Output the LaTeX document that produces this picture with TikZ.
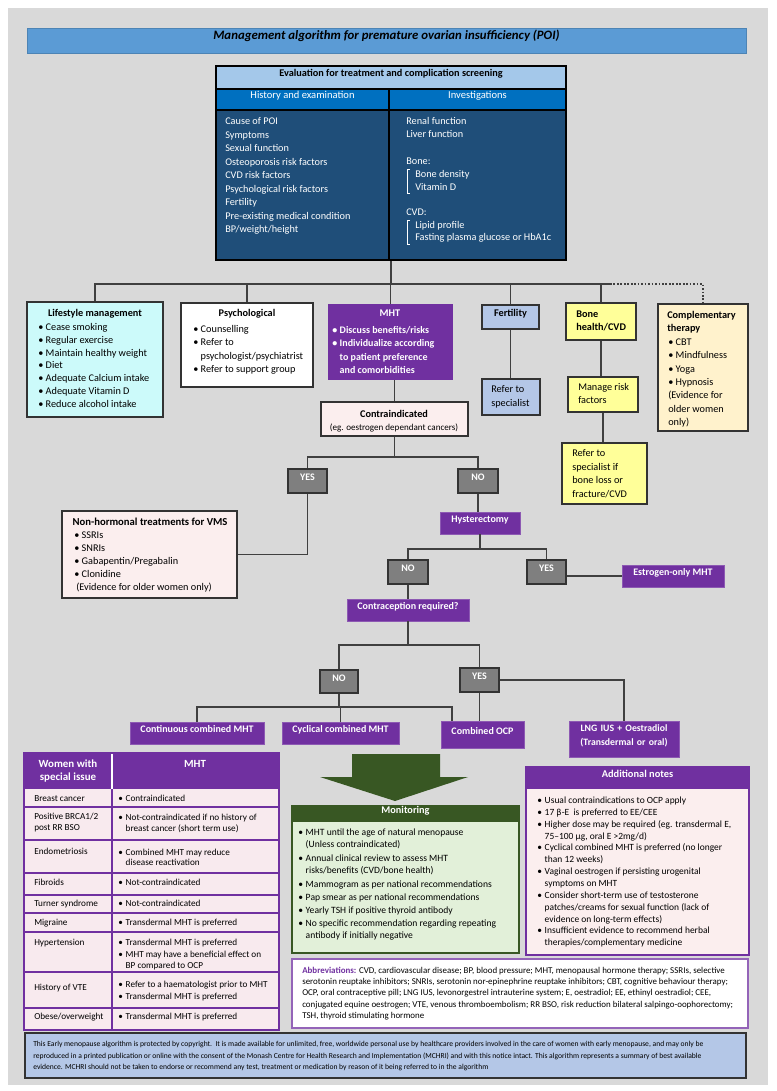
\documentclass[tikz,border=0pt]{standalone}
\usepackage{fontspec}
\setmainfont{Carlito}
\newfontfamily\grk{DejaVu Sans}
\usetikzlibrary{fit}
\definecolor{bg}{HTML}{D9D9D9}
\definecolor{titleblue}{HTML}{5B9BD5}
\definecolor{evalhead}{HTML}{A4C8EA}
\definecolor{evalsub}{HTML}{0070C0}
\definecolor{evalbody}{HTML}{1F4E79}
\definecolor{lifec}{HTML}{CCFAFA}
\definecolor{purp}{HTML}{7030A0}
\definecolor{fertc}{HTML}{B4C7E7}
\definecolor{bonec}{HTML}{FFFF99}
\definecolor{compc}{HTML}{FFF2CC}
\definecolor{pinkc}{HTML}{FBEEEE}
\definecolor{tabpink}{HTML}{F8EAEE}
\definecolor{grayb}{HTML}{7F7F7F}
\definecolor{darkg}{HTML}{385723}
\definecolor{lightg}{HTML}{E2F0D9}
\definecolor{footc}{HTML}{B4C7E7}
\definecolor{edge}{HTML}{333333}
\definecolor{wirec}{HTML}{404040}
\newcommand\fz[2]{\fontsize{#1}{#2}\selectfont}
\newcommand\bu{\makebox[5.6pt][l]{\textbullet}}
\newcommand\ind{\hspace*{5.6pt}}
\newcommand\lns[6]{\foreach \lnitem [count=\lni] in {#6}{\node[tl,#5] (#1\lni) at (#2,{#3+(\lni-1)*(#4)}) {\lnitem};}}
\begin{document}
\begin{tikzpicture}[x=0.75pt,y=-0.75pt,
  bx/.style={draw=edge,line width=1pt,inner sep=0pt},
  tl/.style={inner sep=0pt,anchor=west,text height=5.4pt,text depth=1.6pt,font=\fz{7.7}{9}},
  tb/.style={tl,font=\fz{7.7}{9}\bfseries},
  tc/.style={tl,anchor=center},
  wire/.style={draw=wirec,line width=1.1pt},
  dots/.style={draw=wirec,line width=1.1pt,dash pattern=on 1.3pt off 1.3pt},
  yn/.style={bx,fill=grayb,draw=edge,text=white,font=\fz{7.5}{9}\bfseries},
  pl/.style={inner sep=0pt,fill=purp,draw=purp!80!white,line width=0.6pt,text=white,font=\fz{7.5}{9}\bfseries},
]
\useasboundingbox (0,0) rectangle (777,1091);
\fill[white] (0,0) rectangle (777,1091);
\fill[bg] (8,8) rectangle (768,1085);

% title
\node[fill=titleblue,draw=titleblue!85!black,line width=0.6pt,inner sep=0pt,fit={(27,28)(746,53)},font=\fz{9.6}{11}\bfseries\itshape] (title) {Management algorithm for premature ovarian insufficiency (POI)};

% evaluation box
\node[bx,draw=black,fill=evalhead,fit={(216,66)(566,89)},font=\fz{7.7}{9}\bfseries] (evh) {Evaluation for treatment and complication screening};
\node[bx,draw=black,fill=evalsub,fit={(216,89)(389,110)},text=white,font=\fz{7.9}{9}] (evsl) {History and examination};
\node[bx,draw=black,fill=evalsub,fit={(389,89)(566,110)},text=white,font=\fz{7.9}{9}] (evsr) {Investigations};
\node[bx,draw=black,fill=evalbody,fit={(216,110)(389,260)}] (evbl) {};
\node[bx,draw=black,fill=evalbody,fit={(389,110)(566,260)}] (evbr) {};
\node[draw=black,line width=1.3pt,inner sep=0pt,fit={(216,66)(566,260)}] (ev) {};
\lns{evl}{225}{122}{13.5}{text=white}{{Cause of POI},{Symptoms},{Sexual function},{Osteoporosis risk factors},{CVD risk factors},{Psychological risk factors},{Fertility},{Pre-existing medical condition},{BP/weight/height}}
\node[tl,text=white] (evr1) at (406,122) {Renal function};
\node[tl,text=white] (evr2) at (406,135) {Liver function};
\node[tl,text=white] (evr3) at (406,162) {Bone:};
\node[tl,text=white] (evr4) at (415,175) {Bone density};
\node[tl,text=white] (evr5) at (415,188) {Vitamin D};
\node[tl,text=white] (evr6) at (406,213) {CVD:};
\node[tl,text=white] (evr7) at (415,226) {Lipid profile};
\node[tl,text=white] (evr8) at (415,238) {Fasting plasma glucose or HbA1c};
\draw[white,line width=0.6pt] (410,169) -- (407,169) -- (407,193) -- (410,193);
\draw[white,line width=0.6pt] (410,220) -- (407,220) -- (407,244) -- (410,244);

% second row boxes
\node[bx,fill=lifec,fit={(27,302)(163,417)}] (lif) {};
\node[tb,anchor=center] (lift) at (95,314) {Lifestyle management};
\lns{lifl}{38}{328}{12.8}{}{{\bu Cease smoking},{\bu Regular exercise},{\bu Maintain healthy weight},{\bu Diet},{\bu Adequate Calcium intake},{\bu Adequate Vitamin D},{\bu Reduce alcohol intake}}

\node[bx,fill=white,fit={(181,303)(313,387)}] (psy) {};
\node[tb,anchor=center] (psyt) at (247,314) {Psychological};
\lns{psyl}{193}{330}{13.3}{}{{\bu Counselling},{\bu Refer to},{\ind psychologist/psychiatrist},{\bu Refer to support group}}

\node[inner sep=0pt,fill=purp,fit={(328,304)(453,380)}] (mht) {};
\node[tb,anchor=center,text=white] (mhtt) at (390,314) {MHT};
\lns{mhtl}{332}{331}{13.4}{text=white,font=\fz{7.5}{9}\bfseries}{{\bu Discuss benefits/risks},{\bu Individualize according},{\ind to patient preference},{\ind and comorbidities}}

\node[bx,fill=fertc,fit={(482,305)(539,329)},font=\fz{7.7}{9}\bfseries] (fert) {Fertility};
\node[bx,fill=fertc,fit={(482,379)(540,415)}] (fref) {};
\lns{frefl}{491}{390}{14}{}{{Refer to},{specialist}}

\node[bx,fill=bonec,fit={(566,303)(636,340)}] (bone) {};
\lns{bonel}{576}{315}{13}{font=\fz{7.7}{9}\bfseries}{{Bone},{health/CVD}}
\node[bx,fill=bonec,fit={(568,377)(638,412)}] (mng) {};
\lns{mngl}{578}{388}{13}{}{{Manage risk},{factors}}
\node[bx,fill=bonec,fit={(562,443)(647,504)}] (bref) {};
\lns{brefl}{572}{454}{13.6}{}{{Refer to},{specialist if},{bone loss or},{fracture/CVD}}

\node[bx,fill=compc,fit={(658,304)(748,431)}] (comp) {};
\lns{compt}{667}{316}{13}{font=\fz{7.7}{9}\bfseries}{{Complementary},{therapy}}
\lns{compl}{668}{343}{13.3}{}{{\bu CBT},{\bu Mindfulness},{\bu Yoga},{\bu Hypnosis},{(Evidence for},{older women},{only)}}

% bus connectors
\coordinate (bus) at (0,284);
\coordinate (busend) at (610,284);
\draw[wire] (ev.south) -- (ev.south |- bus);
\draw[wire] (lif.north) |- (busend);
\draw[wire] (psy.north) -- (psy.north |- bus);
\draw[wire] (mht.north) -- (mht.north |- bus);
\draw[wire] (fert.north) -- (fert.north |- bus);
\draw[wire] (bone.north) -- (bone.north |- bus);
\draw[dots] (busend) -| (comp.north);
\draw[wire] (fert.south) -- (fert.south |- fref.north);
\draw[wire] (bone.south) -- (bone.south |- mng.north);
\draw[wire] (mng.south) -- (mng.south |- bref.north);

% contraindicated
\node[bx,fill=pinkc,fit={(321,402)(468,436)}] (cind) {};
\node[tb,anchor=center] (cindt) at (394,415) {Contraindicated};
\node[tc,font=\fz{6.8}{8}] (cinds) at (394,428) {(eg. oestrogen dependant cancers)};
\draw[wire] (cind.north) -- (cind.north |- mht.south);

\node[yn,fit={(288,469)(327,493)}] (yes1) {YES};
\node[yn,fit={(458,469)(498,493)}] (no1) {NO};
\coordinate (h1) at (0,457);
\draw[wire] (cind.south) -- (cind.south |- h1);
\draw[wire] (yes1.north) |- (no1.north |- h1) -- (no1.north);

\node[bx,fill=pinkc,fit={(62,511)(237,598)}] (nonh) {};
\node[tb,anchor=center,font=\fz{8}{9}\bfseries] (nonht) at (150,523) {Non-hormonal treatments for VMS};
\lns{nonhl}{74}{536}{13}{}{{\bu SSRIs},{\bu SNRIs},{\bu Gabapentin/Pregabalin},{\bu Clonidine}}
\node[tl] (nonhe) at (76,588) {(Evidence for older women only)};
\draw[wire] (yes1.south) |- (nonh.east);

\node[pl,fit={(440,512)(520,534)}] (hyst) {Hysterectomy};
\draw[wire] (no1.south) -- (no1.south |- hyst.north);
\node[yn,fit={(388,560)(428,584)}] (no2) {NO};
\node[yn,fit={(527,560)(566,584)}] (yes2) {YES};
\coordinate (h2) at (0,549);
\draw[wire] (hyst.south) -- (hyst.south |- h2);
\draw[wire] (no2.north) |- (yes2.north |- h2) -- (yes2.north);
\node[pl,fit={(622,565)(724,587)}] (estr) {Estrogen-only MHT};
\draw[wire] (yes2.east |- estr.west) -- (estr.west);

\node[pl,fit={(347,599)(469,621)}] (contra) {Contraception required?};
\draw[wire] (no2.south) -- (no2.south |- contra.north);
\node[yn,fit={(320,670)(358,693)}] (no3) {NO};
\node[yn,fit={(460,668)(499,692)}] (yes3) {YES};
\coordinate (h3) at (0,645);
\draw[wire] (contra.south) -- (contra.south |- h3);
\draw[wire] (no3.north) |- (yes3.north |- h3) -- (yes3.north);

\node[pl,fit={(130,722)(264,744)}] (ccm) {Continuous combined MHT};
\node[pl,fit={(282,722)(399,744)}] (cyc) {Cyclical combined MHT};
\node[pl,fit={(441,721)(524,748)}] (ocp) {Combined OCP};
\node[pl,fit={(569,721)(679,757)},align=center,font=\fz{7.3}{10.5}\bfseries] (lng) {LNG IUS + Oestradiol\\(Transdermal or oral)};
\coordinate (h4) at (0,707);
\coordinate (ocpl) at (452,721);
\draw[wire] (no3.south) -- (no3.south |- h4);
\draw[wire] (ccm.north) |- (ocpl |- h4) -- (ocpl);
\draw[wire] (cyc.north) -- (cyc.north |- h4);
\draw[wire] (yes3.south) -- (yes3.south |- ocp.north);
\draw[wire] (yes3.east) -| (lng.north);

% table
\fill[tabpink] (24,789) rectangle (279,1030);
\fill[purp] (24,753) rectangle (279,789);
\foreach \yy in {807,840,873,895,913,932,972,1008} \draw[purp,line width=0.8pt] (24,\yy) -- (279,\yy);
\draw[purp,line width=0.8pt] (112,789) -- (112,1030);
\draw[white,line width=0.8pt] (112,753) -- (112,789);
\draw[purp,line width=1.2pt] (24,753) rectangle (279,1030);
\node[tc,text=white,font=\fz{8.2}{9}\bfseries] (th1) at (68,765) {Women with};
\node[tc,text=white,font=\fz{8.2}{9}\bfseries] (th2) at (68,778) {special issue};
\node[tc,text=white,font=\fz{8.2}{9}\bfseries] (th3) at (195,765) {MHT};
\tikzset{tt/.style={tl,font=\fz{6.9}{8}}}
\node[tt] (ta1) at (34,799) {Breast cancer};
\node[tt] (ta2) at (34,817) {Positive BRCA1/2};
\node[tt] (ta3) at (34,828) {post RR BSO};
\node[tt] (ta4) at (34,852) {Endometriosis};
\node[tt] (ta5) at (34,883) {Fibroids};
\node[tt] (ta6) at (34,904) {Turner syndrome};
\node[tt] (ta7) at (34,923) {Migraine};
\node[tt] (ta8) at (34,943) {Hypertension};
\node[tt] (ta9) at (34,988) {History of VTE};
\node[tt] (ta10) at (34,1017) {Obese/overweight};
\node[tt] (tb1) at (118,799) {\bu Contraindicated};
\node[tt] (tb2) at (118,818) {\bu Not-contraindicated if no history of};
\node[tt] (tb3) at (118,829) {\ind breast cancer (short term use)};
\node[tt] (tb4) at (118,853) {\bu Combined MHT may reduce};
\node[tt] (tb5) at (118,863) {\ind disease reactivation};
\node[tt] (tb6) at (118,883) {\bu Not-contraindicated};
\node[tt] (tb7) at (118,904) {\bu Not-contraindicated};
\node[tt] (tb8) at (118,923) {\bu Transdermal MHT is preferred};
\node[tt] (tb9) at (118,943) {\bu Transdermal MHT is preferred};
\node[tt] (tb10) at (118,955) {\bu MHT may have a beneficial effect on};
\node[tt] (tb11) at (118,966) {\ind BP compared to OCP};
\node[tt] (tb12) at (118,985) {\bu Refer to a haematologist prior to MHT};
\node[tt] (tb13) at (118,997) {\bu Transdermal MHT is preferred};
\node[tt] (tb14) at (118,1017) {\bu Transdermal MHT is preferred};

% big arrow
\fill[darkg] (352,754) -- (440,754) -- (440,777) -- (468,777) -- (395,801) -- (320,777) -- (352,777) -- cycle;

% monitoring
\node[inner sep=0pt,fill=lightg,draw=darkg,line width=1pt,fit={(292,806)(519,953)}] (mon) {};
\node[inner sep=0pt,fill=darkg,fit={(292,806)(519,822)},text=white,font=\fz{7.7}{9}\bfseries] (monh) {Monitoring};
\tikzset{mt/.style={tl,font=\fz{7.2}{8}}}
\node[mt] (m1) at (298,833) {\bu MHT until the age of natural menopause};
\node[mt] (m2) at (298,845) {\ind (Unless contraindicated)};
\node[mt] (m3) at (298,859) {\bu Annual clinical review to assess MHT};
\node[mt] (m4) at (298,871) {\ind risks/benefits (CVD/bone health)};
\node[mt] (m5) at (298,885) {\bu Mammogram as per national recommendations};
\node[mt] (m6) at (298,898) {\bu Pap smear as per national recommendations};
\node[mt] (m7) at (298,911) {\bu Yearly TSH if positive thyroid antibody};
\node[mt] (m8) at (298,924) {\bu No specific recommendation regarding repeating};
\node[mt] (m9) at (298,936) {\ind antibody if initially negative};

% additional notes
\node[inner sep=0pt,fill=pinkc,draw=purp,line width=1.2pt,fit={(526,767)(749,955)}] (add) {};
\node[inner sep=0pt,fill=purp,fit={(526,767)(749,789)},text=white,font=\fz{7.8}{9}\bfseries] (addh) {Additional notes};
\lns{addl}{537}{801}{11.85}{font=\fz{7.1}{8}}{{\bu Usual contraindications to OCP apply},{\bu 17 {\grk\fz{6.2}{7}β}-E\ \ is preferred to EE/CEE},{\bu Higher dose may be required (eg. transdermal E,},{\ind 75–100 µg, oral E >2mg/d)},{\bu Cyclical combined MHT is preferred (no longer},{\ind than 12 weeks)},{\bu Vaginal oestrogen if persisting urogenital},{\ind symptoms on MHT},{\bu Consider short-term use of testosterone},{\ind patches/creams for sexual function (lack of},{\ind evidence on long-term effects)},{\bu Insufficient evidence to recommend herbal},{\ind therapies/complementary medicine}}

% abbreviations
\node[inner sep=0pt,fill=white,draw=purp!75!white,line width=1pt,fit={(292,959)(748,1028)}] (abb) {};
\lns{abbl}{302}{971}{11.2}{font=\fz{6.7}{8}}{{{\color{purp}\bfseries Abbreviations:} CVD, cardiovascular disease; BP, blood pressure; MHT, menopausal hormone therapy; SSRIs, selective},{serotonin reuptake inhibitors; SNRIs, serotonin nor-epinephrine reuptake inhibitors; CBT, cognitive behaviour therapy;},{OCP, oral contraceptive pill; LNG IUS, levonorgestrel intrauterine system; E, oestradiol; EE, ethinyl oestradiol; CEE,},{conjugated equine oestrogen; VTE, venous thromboembolism; RR BSO, risk reduction bilateral salpingo-oophorectomy;},{TSH, thyroid stimulating hormone}}

% footer
\node[inner sep=0pt,fill=footc,draw=edge,line width=1.4pt,fit={(25,1033)(746,1078)}] (foot) {};
\lns{footl}{33}{1044}{11.7}{font=\fz{5.7}{7}}{{This Early menopause algorithm is protected by copyright.\ \ It is made available for unlimited, free, worldwide personal use by healthcare providers involved in the care of women with early menopause, and may only be},{reproduced in a printed publication or online with the consent of the Monash Centre for Health Research and Implementation (MCHRI) and with this notice intact. This algorithm represents a summary of best available},{evidence. MCHRI should not be taken to endorse or recommend any test, treatment or medication by reason of it being referred to in the algorithm}}
\end{tikzpicture}
\end{document}
